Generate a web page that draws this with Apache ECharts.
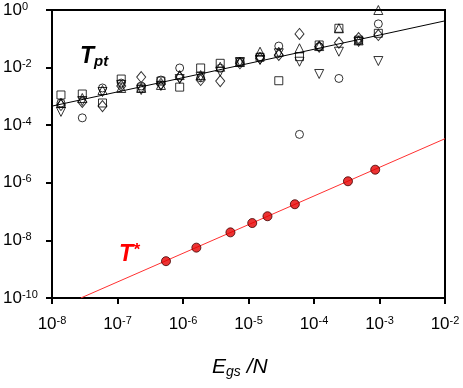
<!DOCTYPE html>
<html>
<head>
<meta charset="utf-8">
<script src="https://cdn.jsdelivr.net/npm/echarts@6/dist/echarts.min.js"></script>
<style>
html,body{margin:0;padding:0;background:#fff;}
#main{width:463px;height:388px;}
</style>
</head>
<body>
<div id="main"></div>
<script>
// E_gs/N positions of the point clusters
var egs = [1.37e-8, 2.9e-8, 5.9e-8, 1.14e-7, 2.3e-7, 4.6e-7, 8.9e-7, 1.86e-6, 3.7e-6, 7.4e-6, 1.5e-5, 2.9e-5, 6.0e-5, 1.2e-4, 2.4e-4, 4.8e-4, 9.6e-4];
// T_pt, one array per marker shape
var tCircle  = [5.9e-4, 1.8e-4, 1.96e-3, 2.9e-3, 2.3e-3, 3.7e-3, 9.7e-3, 4.4e-3, 9.5e-3, 0.016, 0.024, 0.056, 4.8e-5, 0.053, 4.2e-3, 0.086, 0.33];
var tSquare  = [1.12e-3, 1.21e-3, 5.9e-4, 4.0e-3, 1.96e-3, 3.4e-3, 2.1e-3, 9.7e-3, 0.0141, 0.0156, 0.0228, 3.5e-3, 0.024, 0.061, 0.232, 0.09, 0.155];
var tTriUp   = [5.9e-4, 8.8e-4, 1.67e-3, 1.96e-3, 1.96e-3, 2.5e-3, 5.5e-3, 5.5e-3, 0.0107, 0.0156, 0.0356, 0.0356, 0.047, 0.056, 0.232, 0.088, 1.0];
var tTriDown = [2.9e-4, 6.9e-4, 1.42e-3, 2.5e-3, 1.67e-3, 2.3e-3, 4.0e-3, 4.7e-3, 7.2e-3, 0.0156, 0.0184, 0.0314, 0.016, 6.0e-3, 0.0356, 0.077, 0.0169];
var tDiamond = [5.0e-4, 6.4e-4, 4.6e-4, 2.3e-3, 4.7e-3, 2.7e-3, 4.7e-3, 3.7e-3, 3.4e-3, 0.0141, 0.021, 0.0274, 0.147, 0.053, 0.073, 0.106, 0.135];
// T* (red dots)
var starX = [5.5e-7, 1.6e-6, 5.3e-6, 1.14e-5, 1.95e-5, 5.1e-5, 3.3e-4, 8.6e-4];
var starY = [1.9e-9, 5.6e-9, 1.9e-8, 4.0e-8, 6.9e-8, 1.8e-7, 1.13e-6, 2.85e-6];
// fitted lines (end points)
var fitPtX = [1e-8, 1e-2];
var fitPtY = [4.6e-4, 0.42];
var fitStarX = [2.75e-8, 1e-2];
var fitStarY = [1e-10, 3.4e-5];

var FONT = '"Liberation Sans", Arial, sans-serif';

function pairs(xs, ys){
    var out = [];
    for (var i = 0; i < xs.length; i++) {
        out.push([xs[i], ys[i]]);
    }
    return out;
}
function powLabel(v){
    var e = Math.round(Math.log10(v));
    return '{b|10}{s|' + e + '}';
}
var labelRich = {
    b: {fontFamily: FONT, fontSize: 17, lineHeight: 18, color: '#000'},
    s: {fontFamily: FONT, fontSize: 11, lineHeight: 14, color: '#000', verticalAlign: 'top'}
};
function openMarker(name, symbol, ys, size, rot){
    return {
        name: name,
        type: 'scatter',
        symbol: symbol,
        symbolSize: size,
        symbolRotate: rot || 0,
        clip: false,
        z: 5,
        itemStyle: {color: 'rgba(255,255,255,0)', borderColor: '#000', borderWidth: 1},
        data: pairs(egs, ys)
    };
}

var dom = document.getElementById("main");
var myChart = echarts.init(dom);
var option = null;

option = {
    backgroundColor: '#fff',
    animation: false,
    grid: {
        left: 48,
        top: 10,
        right: 18,
        bottom: 90,
        show: true,
        borderColor: '#000',
        borderWidth: 2
    },
    xAxis: {
        type: 'log',
        logBase: 10,
        min: 1e-8,
        max: 1e-2,
        interval: 1,
        axisLine: {onZero: false, lineStyle: {color: '#000', width: 2}},
        axisTick: {show: true, inside: false, length: 6, lineStyle: {color: '#000', width: 2}},
        minorTick: {show: false},
        splitLine: {show: false},
        axisLabel: {margin: 17, formatter: powLabel, rich: labelRich}
    },
    yAxis: {
        type: 'log',
        logBase: 10,
        min: 1e-10,
        max: 1,
        interval: 2,
        axisLine: {onZero: false, lineStyle: {color: '#000', width: 2}},
        axisTick: {show: true, inside: false, length: 6, lineStyle: {color: '#000', width: 2}},
        minorTick: {show: false},
        splitLine: {show: false},
        axisLabel: {margin: 49, align: 'left', formatter: powLabel, rich: labelRich}
    },
    graphic: [
        {
            type: 'text',
            left: 80,
            top: 45,
            style: {
                text: '{t|T}{p|pt}',
                rich: {
                    t: {fontFamily: FONT, fontSize: 23, fontWeight: 'bold', fontStyle: 'italic', lineHeight: 26, fill: '#000'},
                    p: {fontFamily: FONT, fontSize: 15, fontWeight: 'bold', fontStyle: 'italic', lineHeight: 18, fill: '#000', verticalAlign: 'bottom'}
                }
            }
        },
        {
            type: 'text',
            left: 119,
            top: 242,
            style: {
                text: '{t|T}{s|*}',
                rich: {
                    t: {fontFamily: FONT, fontSize: 23, fontWeight: 'bold', fontStyle: 'italic', lineHeight: 26, fill: '#ff0000'},
                    s: {fontFamily: FONT, fontSize: 17, fontWeight: 'bold', fontStyle: 'italic', lineHeight: 16, fill: '#ff0000', verticalAlign: 'top'}
                }
            }
        },
        {
            type: 'text',
            left: 212,
            top: 357,
            style: {
                text: '{e|E}{g|gs}{n| /N}',
                rich: {
                    e: {fontFamily: FONT, fontSize: 21, fontStyle: 'italic', lineHeight: 24, fill: '#000'},
                    g: {fontFamily: FONT, fontSize: 14, fontStyle: 'italic', lineHeight: 14, fill: '#000', verticalAlign: 'bottom'},
                    n: {fontFamily: FONT, fontSize: 21, fontStyle: 'italic', lineHeight: 24, fill: '#000'}
                }
            }
        }
    ],
    series: [
        {
            name: 'fit pt',
            type: 'line',
            showSymbol: false,
            z: 3,
            lineStyle: {color: '#000', width: 1},
            data: pairs(fitPtX, fitPtY)
        },
        {
            name: 'fit star',
            type: 'line',
            showSymbol: false,
            z: 3,
            lineStyle: {color: '#ff3030', width: 1},
            data: pairs(fitStarX, fitStarY)
        },
        openMarker('circle', 'circle', tCircle, 8),
        openMarker('square', 'rect', tSquare, 8),
        openMarker('triUp', 'triangle', tTriUp, 9),
        openMarker('triDown', 'triangle', tTriDown, 9, 180),
        openMarker('diamond', 'diamond', tDiamond, [9, 11]),
        {
            name: 'T*',
            type: 'scatter',
            symbol: 'circle',
            symbolSize: 9,
            z: 6,
            itemStyle: {color: '#e60000', borderColor: '#400000', borderWidth: 1},
            data: pairs(starX, starY)
        }
    ]
};

if (option && typeof option === "object") {
    myChart.setOption(option, true);
}
</script>
</body>
</html>
